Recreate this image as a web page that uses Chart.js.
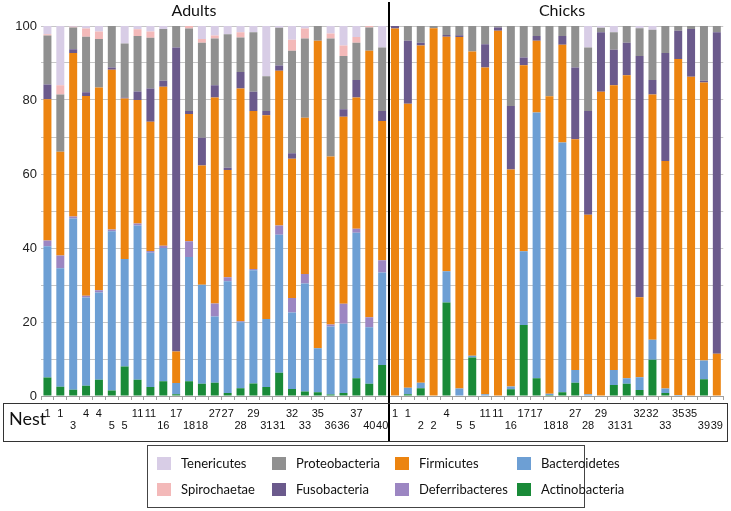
<!DOCTYPE html>
<html><head><meta charset="utf-8">
<script src="https://cdn.jsdelivr.net/npm/chart.js@4/dist/chart.umd.min.js"></script>
<style>
body{margin:0;background:#fff;}
#wrap{position:relative;width:731px;height:511px;overflow:hidden;font-family:Lato,"Liberation Sans",sans-serif;}
canvas{position:absolute;left:0;top:0;}
.ttl{position:absolute;top:0px;font-size:16px;color:#111;transform:translateX(-50%);white-space:nowrap;}
#nestbox{position:absolute;left:3px;top:403px;width:723px;height:37px;border:1px solid #333;}
#nestlbl{position:absolute;left:9px;top:407px;font-size:18px;color:#111;}
#legend{position:absolute;left:147px;top:445px;width:436px;height:61px;border:1px solid #444;}
.li{position:absolute;display:flex;align-items:center;height:16px;font-size:13px;color:#111;white-space:nowrap;}
.sw{width:14px;height:13px;margin-right:10px;}
</style></head><body>
<div id="wrap"><canvas id="c" width="731" height="511"></canvas>
<div class="ttl" style="left:194px">Adults</div>
<div class="ttl" style="left:562px">Chicks</div>
<div id="nestbox"></div><div id="nestlbl">Nest</div>
<div id="legend"></div></div>
<script>
// ---- categories (nest numbers) ----
const adultNests = [1,1,3,4,4,5,5,11,11,16,17,18,18,27,27,28,29,31,31,32,33,35,36,36,37,40,40];
const chickNests = [1,1,2,2,4,5,5,11,11,16,17,17,18,18,27,28,29,31,31,32,32,33,35,35,39,39];

// ---- series values (% relative abundance), 27 adults then 26 chicks ----
const actinobacteria = [5,2.5,1.7,2.8,4.4,1.5,8,4.4,2.4,4,0.5,4,3.3,3.6,0.8,2.1,3.4,2.4,6.3,1.9,1.2,1,0.4,0.8,4.8,3.3,8.4,
  0,0.5,2.1,0,25.3,0,10.4,0,0,1.8,19.2,4.8,0.3,1,3.6,0,0,3,3.3,1.6,9.8,0.8,0,0,4.5,0];
const bacteroidetes = [35.5,32,46.3,23.8,23.6,43,29,41.7,36.3,36,3,33.6,26.8,17.9,30.2,17.8,30.6,18.4,37.3,20.7,29.2,11.9,18.4,18.7,39.3,15.3,25,
  0,1.7,1.5,0,8.4,2,0.5,0.5,0,0.8,19.9,71.8,0.3,67.5,3.4,0.5,0,4,1.5,3.5,5.4,1.2,0.3,0,5.1,0];
const deferribacteres = [1.5,3.5,0.5,0.5,0.6,0.5,0,0.5,0.5,0.6,0,4.2,0,3.5,1.1,0.3,0.3,0,2.5,3.9,2.6,0,0.5,5.4,1.1,2.7,3.3,
  0,0,0,0,0,0,0,0,0,0,0,0,0,0,0,0,0,0,0,0,0,0,0,0,0,0];
const firmicutes = [38.2,28,44.2,54,54.8,43.2,43.4,33.4,34.9,43,8.5,34.4,32.2,55.7,29,62.9,42.7,55.1,41.8,37.6,42.2,83.1,45.4,50.6,35.5,72,37.6,
  99.3,76.8,91.1,99.4,63.4,95,82.2,88.3,98.7,58.6,50.3,19.4,80.4,26.4,62.4,48.5,82.2,77,81.9,21.6,66.3,61.5,90.8,86.3,75.1,11.4];
const fusobacteria = [4,0,1,1,0,0.6,0.3,2.3,9,1.6,82.2,0.8,7.5,3.3,0.6,4.5,5.2,1.1,1.4,1.5,0,0,0,2,4.7,0,2.7,
  0.7,17,0.8,0,0.5,0.5,0,6.3,0.9,17.2,2.1,1.3,0,2.4,19.4,28,16.1,9.6,8.8,65.2,3.9,29.2,7.6,12.9,0.5,86.9];
const proteobacteria = [13.2,15.5,5.9,15,13.1,11.2,14.6,15,13.7,14,5.8,22.3,25.7,12.6,36.1,9.3,16.1,9.4,10.2,27.7,21.4,4,31.9,14.4,10.1,6.3,17.2,
  0,4,4.5,0.6,2.4,2.5,6.9,4.9,0.4,21.6,8.5,2.7,19,2.7,11.2,17.2,1.2,4.7,4.5,7.5,13.6,7.3,1.3,0.8,14.8,1.7];
const spirochaetae = [0.4,2.5,0.2,2.2,2,0,0,1.8,1.7,0,0,0.7,1,0.8,0,1.4,0,0,0,3,2.7,0,1.4,2.8,1.5,0.4,0,
  0,0,0,0,0,0,0,0,0,0,0,0,0,0,0,0,0,0,0,0,0,0,0,0,0,0];
const tenericutes = [2.2,16,0.2,0.7,1.5,0,4.7,0.9,1.5,0.8,0,0,3.5,2.6,2.2,1.7,1.7,13.6,0.5,3.7,0.7,0,2,5.3,3,0,5.8,
  0,0,0,0,0,0,0,0,0,0,0,0,0,0,0,5.8,0.5,1.7,0,0.6,1,0,0,0,0,0];

// ---- y tick labels ----
const yTickLabels = [0,20,40,60,80,100];

const colors = {
  Tenericutes:'#d8cde6', Proteobacteria:'#909090', Firmicutes:'#ec8410', Bacteroidetes:'#6d9fd4',
  Spirochaetae:'#f3b9b9', Fusobacteria:'#6b5a8c', Deferribacteres:'#9c86c2', Actinobacteria:'#198a38'
};
// stacking order bottom -> top
const series = [
  ['Actinobacteria', actinobacteria], ['Bacteroidetes', bacteroidetes], ['Deferribacteres', deferribacteres],
  ['Firmicutes', firmicutes], ['Fusobacteria', fusobacteria], ['Proteobacteria', proteobacteria],
  ['Spirochaetae', spirochaetae], ['Tenericutes', tenericutes]
];
const legendOrder = ['Tenericutes','Proteobacteria','Firmicutes','Bacteroidetes','Spirochaetae','Fusobacteria','Deferribacteres','Actinobacteria'];

const nests = adultNests.concat(chickNests);
function rowsFor(arr){ let r=0; return arr.map((v,i)=>{ if(i>0 && v!==arr[i-1]) r=1-r; return r; }); }
const rowIdx = rowsFor(adultNests).concat(rowsFor(chickNests));

const divider = {
  id:'divider',
  afterDraw(chart){
    const xs = chart.scales.x;
    const x = (xs.getPixelForValue(adultNests.length-1) + xs.getPixelForValue(adultNests.length))/2;
    const ctx = chart.ctx; ctx.save(); ctx.fillStyle = '#000';
    ctx.fillRect(Math.round(x)-1, 2, 2, 440); ctx.restore();
  }
};

new Chart(document.getElementById('c'), {
  type:'bar',
  data:{
    labels: nests.map(String),
    datasets: series.map(([name, vals]) => ({
      label:name, data:vals, backgroundColor:colors[name], borderWidth:0,
      barPercentage:0.62, categoryPercentage:1.0
    }))
  },
  options:{
    responsive:false, animation:false, devicePixelRatio:1,
    layout:{padding:{left:0,right:6,top:26,bottom:70}},
    plugins:{legend:{display:false}, tooltip:{enabled:false}},
    scales:{
      x:{
        stacked:true, offset:true,
        grid:{display:true, drawOnChartArea:false, drawTicks:true, tickLength:4, color:'#a0a0a0', offset:true},
        border:{display:true, color:'#a0a0a0'},
        ticks:{autoSkip:false, maxRotation:0, minRotation:0, padding:8, color:'#111',
          font:{family:'Liberation Sans', size:11, lineHeight:1.1},
          callback:(v,i)=> rowIdx[i]===0 ? [String(nests[i]), ' '] : [' ', String(nests[i])]},
        afterFit:(s)=>{ s.height = 45; }
      },
      y:{
        stacked:true, min:0, max:100,
        ticks:{stepSize:10, padding:4, color:'#222', font:{family:'Liberation Sans', size:13},
          callback:(v)=> yTickLabels.includes(v) ? String(v) : ''},
        grid:{color:'#c6c6c6', drawTicks:false},
        border:{display:false},
        afterFit:(s)=>{ s.width = 41; }
      }
    }
  },
  plugins:[divider]
});

// HTML legend
const lg = document.getElementById('legend');
const colX = [9,124,247,369], rowY = [9,35];
legendOrder.forEach((name,k)=>{
  const d = document.createElement('div'); d.className='li';
  d.style.left = colX[k%4]+'px'; d.style.top = rowY[Math.floor(k/4)]+'px';
  const s = document.createElement('span'); s.className='sw'; s.style.background = colors[name];
  d.appendChild(s); d.appendChild(document.createTextNode(name)); lg.appendChild(d);
});
</script>
</body></html>
